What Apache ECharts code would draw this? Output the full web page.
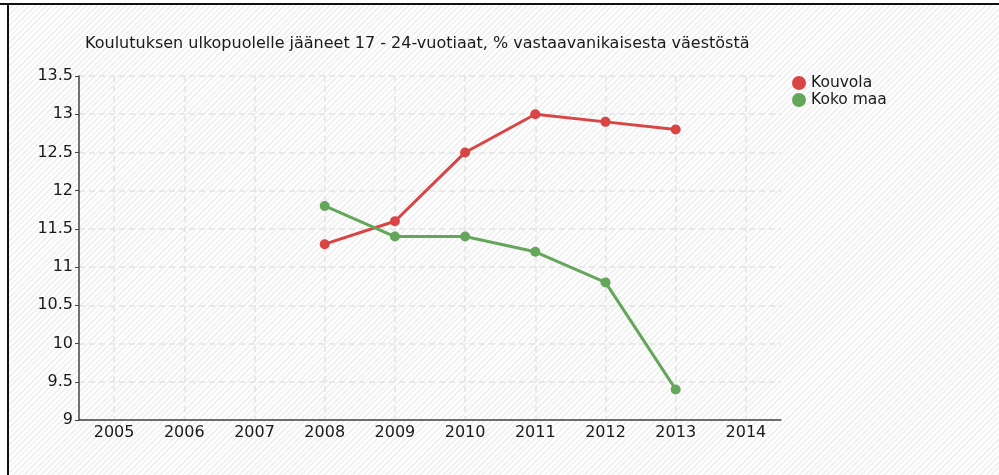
<!DOCTYPE html>
<html>
<head>
<meta charset="utf-8">
<script src="https://cdn.jsdelivr.net/npm/echarts@6/dist/echarts.min.js"></script>
<style>
html,body{margin:0;padding:0;background:#fff;}
#topline{position:absolute;left:0;top:3px;width:999px;height:2px;background:#111;}
#frame{position:absolute;left:7px;top:5px;width:1000px;height:480px;border-left:2px solid #111;
	background:repeating-linear-gradient(135deg,#ffffff 0px,#ffffff 2px,#f2f2f2 2px,#f2f2f2 4px);}
#chart{position:absolute;left:0;top:0;width:999px;height:475px;}
</style>
</head>
<body>
<div id="topline"></div>
<div id="frame"></div>
<div id="chart"></div>
<script>
var years = ['2005','2006','2007','2008','2009','2010','2011','2012','2013','2014'];
var kouvola = [null, null, null, 11.3, 11.6, 12.5, 13.0, 12.9, 12.8, null];
var kokoMaa = [null, null, null, 11.8, 11.4, 11.4, 11.2, 10.8, 9.4, null];
var titleText = 'Koulutuksen ulkopuolelle jääneet 17 - 24-vuotiaat, % vastaavanikaisesta väestöstä';

var font = '"DejaVu Sans", Verdana, sans-serif';
var chart = echarts.init(document.getElementById('chart'));

function lineSeries(name, data, color) {
	return {
		name: name,
		type: 'line',
		data: data,
		symbol: 'circle',
		symbolSize: 10,
		connectNulls: false,
		lineStyle: {color: color, width: 3},
		itemStyle: {color: color},
		emphasis: {disabled: true}
	};
}

chart.setOption({
	backgroundColor: 'transparent',
	animation: false,
	title: {
		text: titleText,
		left: 80,
		top: 31,
		textStyle: {fontFamily: font, fontSize: 16, fontWeight: 'normal', color: '#1a1a1a'}
	},
	legend: {
		orient: 'vertical',
		left: 787,
		top: 70,
		itemWidth: 14,
		itemHeight: 14,
		itemGap: 1,
		icon: 'circle',
		textStyle: {fontFamily: font, fontSize: 15.5, color: '#1a1a1a'},
		data: ['Kouvola', 'Koko maa']
	},
	grid: {left: 79, right: 218, top: 76, bottom: 55},
	xAxis: {
		type: 'category',
		data: years,
		boundaryGap: true,
		axisLine: {lineStyle: {color: '#444', width: 1.5}},
		axisTick: {alignWithLabel: true, length: 4, lineStyle: {color: '#444'}},
		axisLabel: {fontFamily: font, fontSize: 16, color: '#1a1a1a', margin: 5},
		splitLine: {show: true, alignWithLabel: true, lineStyle: {color: '#e4e4e4', width: 1.5, type: [6, 4]}}
	},
	yAxis: {
		type: 'value',
		min: 9,
		max: 13.5,
		interval: 0.5,
		axisLine: {show: true, lineStyle: {color: '#444', width: 1.5}},
		axisTick: {show: true, length: 4, lineStyle: {color: '#444'}},
		axisLabel: {fontFamily: font, fontSize: 16, color: '#1a1a1a', margin: 6},
		splitLine: {show: true, lineStyle: {color: '#e4e4e4', width: 1.5, type: [6, 4]}}
	},
	series: [
		lineSeries('Kouvola', kouvola, '#d94444'),
		lineSeries('Koko maa', kokoMaa, '#64a65a')
	]
});
</script>
</body>
</html>
